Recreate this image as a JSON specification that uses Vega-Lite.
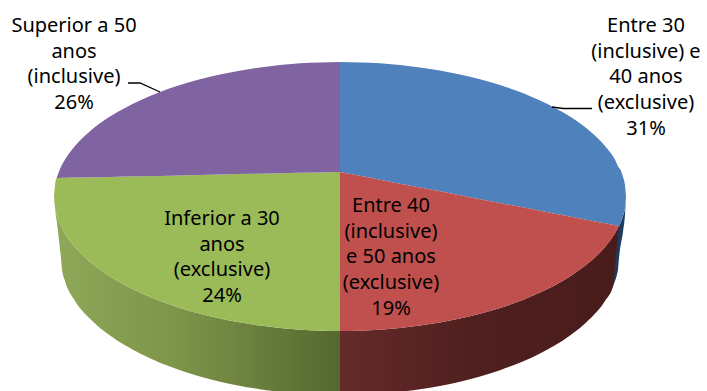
{
"$schema":"https://vega.github.io/schema/vega-lite/v6.json",
"width":707,"height":391,"padding":0,"autosize":"none","background":"white",
"config":{"view":{"stroke":null}},
"datasets":{
"regions":[
{"part":"wall blue","x":612,"y":238,"y2":288.5},{"part":"wall blue","x":613,"y":236.6,"y2":286.3},{"part":"wall blue","x":615,"y":233.4,"y2":281.1},{"part":"wall blue","x":617,"y":230,"y2":274.4},{"part":"wall blue","x":618,"y":228.1,"y2":269.6},{"part":"wall blue","x":619,"y":226,"y2":258},{"part":"wall blue","x":620,"y":223.9,"y2":249.3},{"part":"wall blue","x":623,"y":216,"y2":231.9},{"part":"wall blue","x":625,"y":207.7,"y2":214.4},{"part":"wall blue","x":626,"y":196.5,"y2":196.5},
{"part":"wall red","x":340,"y":331,"y2":395},{"part":"wall red","x":380,"y":329.7,"y2":393.6},{"part":"wall red","x":420,"y":325.6,"y2":389.2},{"part":"wall red","x":460,"y":318.6,"y2":381.7},{"part":"wall red","x":500,"y":308,"y2":370.2},{"part":"wall red","x":540,"y":292.6,"y2":353.5},{"part":"wall red","x":570,"y":276.4,"y2":335.6},{"part":"wall red","x":590,"y":261.8,"y2":318.8},{"part":"wall red","x":605,"y":247.1,"y2":300.9},{"part":"wall red","x":613,"y":236.6,"y2":286.3},{"part":"wall red","x":616,"y":232,"y2":256},{"part":"wall red","x":619,"y":226,"y2":226},
{"part":"wall green","x":54,"y":196.5,"y2":196.5},{"part":"wall green","x":55,"y":207.7,"y2":207.7},{"part":"wall green","x":57,"y":216,"y2":223},{"part":"wall green","x":60,"y":223.9,"y2":249.4},{"part":"wall green","x":61,"y":226,"y2":258},{"part":"wall green","x":62,"y":228.1,"y2":269.6},{"part":"wall green","x":65,"y":233.4,"y2":281.1},{"part":"wall green","x":75,"y":247.1,"y2":300.9},{"part":"wall green","x":90,"y":261.8,"y2":318.8},{"part":"wall green","x":110,"y":276.4,"y2":335.6},{"part":"wall green","x":140,"y":292.6,"y2":353.5},{"part":"wall green","x":180,"y":308,"y2":370.2},{"part":"wall green","x":220,"y":318.6,"y2":381.7},{"part":"wall green","x":260,"y":325.6,"y2":389.2},{"part":"wall green","x":300,"y":329.7,"y2":393.6},{"part":"wall green","x":340,"y":331,"y2":395},
{"part":"Entre 30 e 40","x":340,"y":62,"y2":172},{"part":"Entre 30 e 40","x":380,"y":63.3,"y2":179.7},{"part":"Entre 30 e 40","x":420,"y":67.4,"y2":187.5},{"part":"Entre 30 e 40","x":460,"y":74.4,"y2":195.2},{"part":"Entre 30 e 40","x":500,"y":85,"y2":203},{"part":"Entre 30 e 40","x":540,"y":100.4,"y2":210.7},{"part":"Entre 30 e 40","x":570,"y":116.6,"y2":216.5},{"part":"Entre 30 e 40","x":590,"y":131.2,"y2":220.4},{"part":"Entre 30 e 40","x":605,"y":145.9,"y2":223.3},{"part":"Entre 30 e 40","x":615,"y":159.6,"y2":225.2},{"part":"Entre 30 e 40","x":619,"y":168,"y2":226},{"part":"Entre 30 e 40","x":620,"y":169.1,"y2":223.9},{"part":"Entre 30 e 40","x":623,"y":177,"y2":216},{"part":"Entre 30 e 40","x":625,"y":185.3,"y2":207.7},{"part":"Entre 30 e 40","x":626,"y":196.5,"y2":196.5},
{"part":"Entre 40 e 50","x":340,"y":172,"y2":331},{"part":"Entre 40 e 50","x":380,"y":179.7,"y2":329.7},{"part":"Entre 40 e 50","x":420,"y":187.5,"y2":325.6},{"part":"Entre 40 e 50","x":460,"y":195.2,"y2":318.6},{"part":"Entre 40 e 50","x":500,"y":203,"y2":308},{"part":"Entre 40 e 50","x":540,"y":210.7,"y2":292.6},{"part":"Entre 40 e 50","x":570,"y":216.5,"y2":276.4},{"part":"Entre 40 e 50","x":590,"y":220.4,"y2":261.8},{"part":"Entre 40 e 50","x":605,"y":223.3,"y2":247.1},{"part":"Entre 40 e 50","x":615,"y":225.2,"y2":233.4},{"part":"Entre 40 e 50","x":619,"y":226,"y2":226},
{"part":"Inferior a 30","x":54,"y":196.5,"y2":196.5},{"part":"Inferior a 30","x":55,"y":185.3,"y2":207.7},{"part":"Inferior a 30","x":56.7,"y":178,"y2":214.9},{"part":"Inferior a 30","x":60,"y":177.9,"y2":223.9},{"part":"Inferior a 30","x":65,"y":177.8,"y2":233.4},{"part":"Inferior a 30","x":75,"y":177.6,"y2":247.1},{"part":"Inferior a 30","x":90,"y":177.3,"y2":261.8},{"part":"Inferior a 30","x":110,"y":176.9,"y2":276.4},{"part":"Inferior a 30","x":140,"y":176.2,"y2":292.6},{"part":"Inferior a 30","x":180,"y":175.4,"y2":308},{"part":"Inferior a 30","x":220,"y":174.5,"y2":318.6},{"part":"Inferior a 30","x":260,"y":173.7,"y2":325.6},{"part":"Inferior a 30","x":300,"y":172.8,"y2":329.7},{"part":"Inferior a 30","x":340,"y":172,"y2":331},
{"part":"Superior a 50","x":56.7,"y":178,"y2":178},{"part":"Superior a 50","x":60,"y":169.1,"y2":177.9},{"part":"Superior a 50","x":65,"y":159.6,"y2":177.8},{"part":"Superior a 50","x":75,"y":145.9,"y2":177.6},{"part":"Superior a 50","x":90,"y":131.2,"y2":177.3},{"part":"Superior a 50","x":110,"y":116.6,"y2":176.9},{"part":"Superior a 50","x":140,"y":100.4,"y2":176.2},{"part":"Superior a 50","x":180,"y":85,"y2":175.4},{"part":"Superior a 50","x":220,"y":74.4,"y2":174.5},{"part":"Superior a 50","x":260,"y":67.4,"y2":173.7},{"part":"Superior a 50","x":300,"y":63.3,"y2":172.8},{"part":"Superior a 50","x":340,"y":62,"y2":172}
],
"leaders":[
{"to":"Superior a 50","step":1,"x":128,"y":83},{"to":"Superior a 50","step":2,"x":140,"y":83},{"to":"Superior a 50","step":3,"x":160,"y":92},
{"to":"Entre 30 e 40","step":1,"x":592,"y":108.5},{"to":"Entre 30 e 40","step":2,"x":563,"y":108.5},{"to":"Entre 30 e 40","step":3,"x":552,"y":107}
],
"labels":[
{"label":"Superior a 50\nanos\n(inclusive)\n26%","x":74,"y":32},
{"label":"Entre 30\n(inclusive) e\n40 anos\n(exclusive)\n31%","x":646,"y":32},
{"label":"Inferior a 30\nanos\n(exclusive)\n24%","x":222,"y":225},
{"label":"Entre 40\n(inclusive)\ne 50 anos\n(exclusive)\n19%","x":391,"y":212}
]
},
"layer":[
{"data":{"name":"regions"},
 "encoding":{
  "x":{"field":"x","type":"quantitative","scale":{"domain":[0,707],"nice":false,"zero":false},"axis":null},
  "y":{"field":"y","type":"quantitative","scale":{"domain":[0,391],"reverse":true,"nice":false,"zero":false},"axis":null},
  "y2":{"field":"y2"}
 },
 "layer":[
  {"transform":[{"filter":"datum.part==='wall blue'"}],"mark":{"type":"area","clip":true,"interpolate":"monotone","color":"#1f3a5c"}},
  {"transform":[{"filter":"datum.part==='wall red'"}],"mark":{"type":"area","clip":true,"interpolate":"monotone","color":{"gradient":"linear","x1":0,"y1":0,"x2":1,"y2":0,"stops":[{"offset":0,"color":"#662a2a"},{"offset":0.5,"color":"#4e1f1e"},{"offset":1,"color":"#491c1c"}]}}},
  {"transform":[{"filter":"datum.part==='wall green'"}],"mark":{"type":"area","clip":true,"interpolate":"monotone","color":{"gradient":"linear","x1":0,"y1":0,"x2":1,"y2":0,"stops":[{"offset":0,"color":"#8fa858"},{"offset":0.45,"color":"#7c9349"},{"offset":1,"color":"#55682f"}]}}},
  {"transform":[{"filter":"datum.part==='Entre 30 e 40'"}],"mark":{"type":"area","interpolate":"monotone","color":"#4f81bd"}},
  {"transform":[{"filter":"datum.part==='Entre 40 e 50'"}],"mark":{"type":"area","interpolate":"monotone","color":"#c0504d"}},
  {"transform":[{"filter":"datum.part==='Inferior a 30'"}],"mark":{"type":"area","interpolate":"monotone","color":"#9bbb59"}},
  {"transform":[{"filter":"datum.part==='Superior a 50'"}],"mark":{"type":"area","interpolate":"monotone","color":"#8064a2"}}
 ]
},
{"data":{"name":"leaders"},
 "mark":{"type":"line","color":"#000000","strokeWidth":1.3},
 "encoding":{
  "x":{"field":"x","type":"quantitative","scale":{"domain":[0,707],"nice":false,"zero":false},"axis":null},
  "y":{"field":"y","type":"quantitative","scale":{"domain":[0,391],"reverse":true,"nice":false,"zero":false},"axis":null},
  "detail":{"field":"to"},
  "order":{"field":"step","type":"ordinal"}
 }
},
{"data":{"name":"labels"},
 "mark":{"type":"text","font":"Noto Sans","fontSize":20,"color":"#000000","align":"center","baseline":"alphabetic","lineBreak":"\n","lineHeight":25.7},
 "encoding":{
  "x":{"field":"x","type":"quantitative","scale":{"domain":[0,707],"nice":false,"zero":false},"axis":null},
  "y":{"field":"y","type":"quantitative","scale":{"domain":[0,391],"reverse":true,"nice":false,"zero":false},"axis":null},
  "text":{"field":"label"}
 }
}
]
}
